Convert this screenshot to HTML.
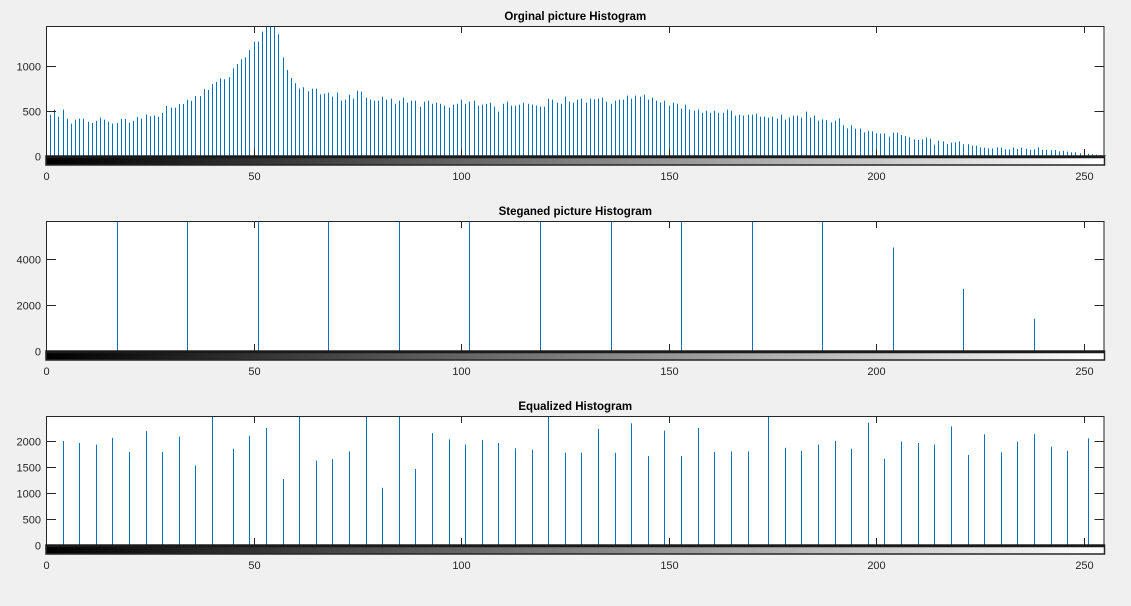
<!DOCTYPE html>
<html><head><meta charset="utf-8">
<style>
html,body{margin:0;padding:0;background:#f0f0f0;}
svg{display:block;font-family:"Liberation Sans",Arial,sans-serif;}
</style></head>
<body>
<svg id="fig" width="1131" height="606" viewBox="0 0 1131 606" xmlns="http://www.w3.org/2000/svg">
<defs>
<linearGradient id="gray" x1="0" x2="1" y1="0" y2="0"><stop offset="0" stop-color="#000"/><stop offset="1" stop-color="#fff"/></linearGradient>
</defs>
</svg>
<script>
// ---- data ----
const origA = [450,460,515,434,515,415,360,404,415,415,380,368,390,426,404,380,360,368,412,412,371,390,434,415,460,441,449,434,478,555,537,537,577,577,625,614,665,665,743,735,798,823,864,853,875,974,1022,1074,1096,1176,1272,1272,1382,1434,1434,1434,1353,1096,956,868,809,750];
const origB = [763,719,748,748,685,693,704,659,704,615,626,681,637,726,715,648,626,615,615,659,626,637,581,615,648,593,615,615,548,604,615,581,593,581,559,537,570,581,626,581,604,615,559,570,581,593,548,493,581,604,559,559,570,593,581,570,559,548,548,637,626,593,581,659,604,593,626,637,593,637];
const origC = [630,637,648,604,581,615,626,626,670,637,670,659,681,626,648,615,593,615,559,593,581,526,570,515,504,515,481,504,481,504,481,481,515,504,448,459,448,459,459,470,437,437,426,437,415,459,404,426,448,448,426,493,426,448,393];
const origD = [407,400,374,393,419,341,307,341,304,304,263,281,274,252,248,252,215,259,259,233,222,207,185,178,185,204,193,126,170,163,133,148,152,163,130,130,115,115,96,93,85,85,96,93,74,74,93,78,93,81,70,74,96,70,70,63,67,52,59,48,41,41,30,30,25,20,15,10,5];
const stegBins = [0,17,34,51,68,85,102,119,136,153,170,187,204,221,238];
const stegVals = [5260,6000,6000,6000,6000,6000,6000,6000,6000,6000,6000,6000,4500,2700,1400];
const eqBins = [0,4,8,12,16,20,24,28,32,36,40,45,49,53,57,61,65,69,73,77,81,85,89,93,97,101,105,109,113,117,121,125,129,133,137,141,145,149,153,157,161,165,169,174,178,182,186,190,194,198,202,206,210,214,218,222,226,230,234,238,242,246,251];
const eqVals = [1500,2000,1960,1930,2060,1790,2190,1790,2080,1530,2480,1850,2100,2250,1270,2480,1620,1650,1800,2480,1100,2480,1460,2150,2030,1930,2020,1960,1860,1830,2480,1770,1770,2230,1770,2340,1710,2200,1710,2250,1790,1800,1800,2480,1870,1810,1930,2000,1850,2350,1660,1990,1960,1930,2280,1730,2130,1780,1990,2130,1890,1810,2050];
const titles = ["Orginal picture Histogram","Steganed picture Histogram","Equalized Histogram"];
const yTicks1 = [0,500,1000];
const yTicks2 = [0,2000,4000];
const yTicks3 = [0,500,1000,1500,2000];
const xTicks = [0,50,100,150,200,250];

let origVals = origA.concat(origB, origC, origD).slice(0,256);
while (origVals.length < 256) origVals.push(5);
const origBins = origVals.map((v,i)=>i);

// ---- drawing ----
const NS = "http://www.w3.org/2000/svg";
const svg = document.getElementById('fig');
const L = 46, R = 1104.5, XMAX = 255;
function xs(v){ return L + v*(R-L)/XMAX; }
function mk(tag, attrs, parent){
  const e = document.createElementNS(NS, tag);
  for (const k in attrs) e.setAttribute(k, attrs[k]);
  (parent||svg).appendChild(e);
  return e;
}
const panels = [
  {top:26, base:156, ymax:1444, bins:origBins, vals:origVals, yt:yTicks1, title:titles[0], key:'original'},
  {top:221, base:351, ymax:5650, bins:stegBins, vals:stegVals, yt:yTicks2, title:titles[1], key:'steganed'},
  {top:416, base:545, ymax:2480, bins:eqBins, vals:eqVals, yt:yTicks3, title:titles[2], key:'equalized'}
];
panels.forEach((p, pi)=>{
  const g = mk('g', {});
  
  
  const ys = v => p.base - v*(p.base-p.top)/p.ymax;
  const bg = mk('rect', {x:L, y:p.top, width:R-L, height:p.base-p.top, fill:'#fff'}, g);
  
  
  // stems
  p.bins.forEach((b,i)=>{
    const v = Math.min(p.vals[i], p.ymax);
    const x = Math.round(xs(b)) + 0.5;
    const ln = mk('line', {x1:x, x2:x, y1:p.base, y2:ys(v), stroke:'#0072bd', 'stroke-width':1}, g);
    
    
  });
  // y ticks
  p.yt.forEach(t=>{
    const y = Math.round(ys(t)) + 0.5;
    if (t > 0) {
      mk('line', {x1:L, x2:L+10, y1:y, y2:y, stroke:'#262626'}, g);
      mk('line', {x1:R-10, x2:R, y1:y, y2:y, stroke:'#262626'}, g);
    }
    const tx = mk('text', {x:L-5, y:y+4, 'text-anchor':'end', 'font-size':11, fill:'#262626'}, g);
    tx.textContent = t;
    
    
  });
  // x ticks
  xTicks.forEach(t=>{
    const x = Math.round(xs(t)) + 0.5;
    if (t > 0) {
      mk('line', {x1:x, x2:x, y1:p.top, y2:p.top+7, stroke:'#262626'}, g);
      mk('line', {x1:x, x2:x, y1:p.base-7, y2:p.base+9, stroke:'#262626'}, g);
    }
    const tx = mk('text', {x:x, y:p.base+24, 'text-anchor':'middle', 'font-size':11, fill:'#262626'}, g);
    tx.textContent = t;
    
    
  });
  // frame
  mk('rect', {x:L+0.5, y:p.top+0.5, width:R-L-1, height:p.base-p.top, fill:'none', stroke:'#262626'}, g);
  // colorbar
  const cb = mk('rect', {x:L, y:p.base, width:R-L, height:9, fill:'url(#gray)', stroke:'#262626', 'stroke-width':1.5}, g);
  
  
  mk('line', {x1:L, x2:R, y1:p.base+1, y2:p.base+1, stroke:'#1a1a1a', 'stroke-width':2.5}, g);
  // title
  const ti = mk('text', {x:(L+R)/2, y:p.top-6, 'text-anchor':'middle', 'font-size':11.5, 'font-weight':'bold', fill:'#000'}, g);
  ti.textContent = p.title;
  
  
});
</script>
</body></html>
